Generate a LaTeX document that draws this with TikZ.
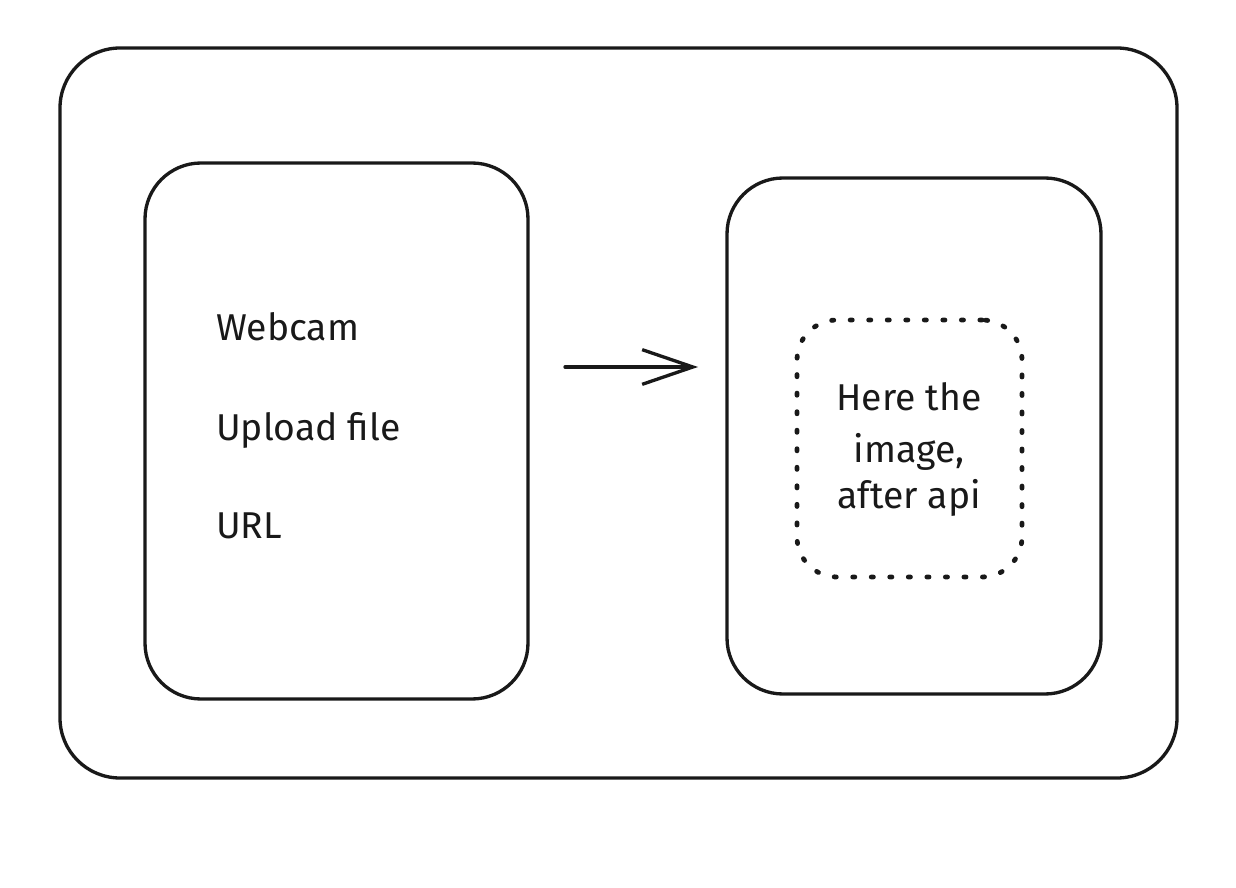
\documentclass[tikz,border=0pt]{standalone}
\usepackage{fontspec}
\setmainfont{Fira Sans}
\usetikzlibrary{arrows.meta}
\begin{document}
\begin{tikzpicture}[x=0.75pt,y=-0.75pt,
  panel/.style={draw=black!90, line width=2.5pt, rounded corners=#1, inner sep=0pt},
  panel/.default=42pt,
  dotbox/.style={draw=black!90, line width=3.6pt, line cap=round,
    dash pattern=on 1.6pt off 12.3pt, rounded corners=30pt, inner sep=0pt},
  label/.style={font=\fontsize{28}{32}\selectfont, text=black!90, inner sep=0pt},
  flow/.style={draw=black!90, line width=2.5pt, line cap=round,
    -{Straight Barb[length=38pt,width=26pt,line width=2.5pt]}}]
  \useasboundingbox (0,0) rectangle (1236,888);

  % outer frame and the two panels
  \node[panel=45pt, minimum width=837.75pt, minimum height=547.5pt] (frame) at (618.5,413) {};
  \node[panel, minimum width=287.25pt, minimum height=402pt] (input) at (336.5,431) {};
  \node[panel, minimum width=280.5pt, minimum height=387pt] (output) at (914,436) {};
  \node[dotbox, minimum width=168.75pt, minimum height=192.75pt] (result) at (909.5,448.5) {};

  % input options
  \node[label, anchor=base west] (webcam) at (216,340) {Webcam};
  \node[label, anchor=base west] (upload) at (216,440) {Upload file};
  \node[label, anchor=base west] (url) at (216,538) {URL};

  % result placeholder text
  \node[label, anchor=base] (l1) at (909,410) {Here the};
  \node[label, anchor=base] (l2) at (909,462) {image,};
  \node[label, anchor=base] (l3) at (909,508) {after api};

  % flow arrow
  \coordinate (from) at (565,367);
  \coordinate (to) at (698,367);
  \draw[flow] (from) -- (to);
\end{tikzpicture}
\end{document}
